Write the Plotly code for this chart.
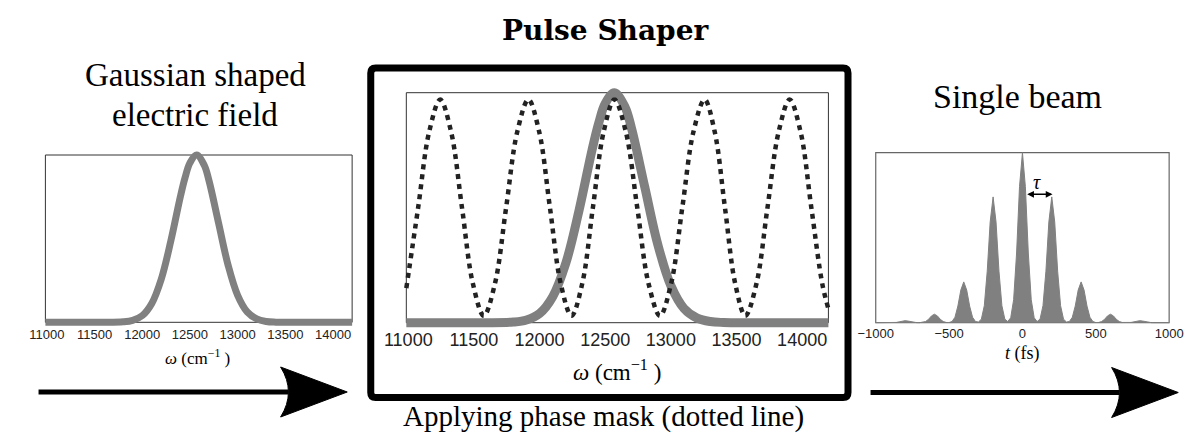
import plotly.graph_objects as go

W, H = 1199, 434

# ---------------- data ----------------
omega_tick_vals = [11000, 11500, 12000, 12500, 13000, 13500, 14000]
time_tick_vals = [-1000, -500, 0, 500, 1000]

# Gaussian spectral amplitude (cm^-1 -> normalised amplitude)
omega_field = [10985, 11200, 11400, 11600, 11800, 11900, 12000, 12100, 12200, 12300,
               12400, 12450, 12500, 12570, 12650, 12700, 12800, 12900, 13000, 13100,
               13200, 13300, 13400, 13600, 13800, 14000, 14200]
field_amp = [0, 0, 0, 0, 0.003, 0.012, 0.040, 0.113, 0.259, 0.487,
             0.752, 0.867, 0.953, 1.0, 0.939, 0.846, 0.593, 0.341, 0.161, 0.062,
             0.020, 0.005, 0.001, 0, 0, 0, 0]

# phase mask (dotted line)
omega_mask = [10985, 11075, 11159, 11243, 11326, 11409, 11492, 11575, 11660, 11745,
              11830, 11915, 11997, 12079, 12161, 12243, 12325, 12406, 12488, 12570,
              12657, 12744, 12830, 12917, 13002, 13087, 13172, 13257, 13334, 13412,
              13490, 13567, 13652, 13736, 13821, 13905, 13988, 14070, 14153, 14200]
mask_amp = [0.15, 0.50, 0.83, 0.97, 0.83, 0.50, 0.17, 0.03, 0.17, 0.50,
            0.83, 0.97, 0.83, 0.50, 0.17, 0.03, 0.17, 0.50, 0.83, 0.97,
            0.83, 0.50, 0.17, 0.03, 0.17, 0.50, 0.83, 0.97, 0.83, 0.50,
            0.17, 0.03, 0.17, 0.50, 0.83, 0.97, 0.83, 0.50, 0.17, 0.06]

# single beam: pulse train envelope in time (fs)
time_fs = [-1000, -980, -960, -940, -920, -900, -880, -860, -840, -820,
           -800, -780, -760, -740, -720, -700, -680, -660, -640, -620,
           -600, -580, -560, -540, -520, -500, -480, -460, -440, -420,
           -400, -380, -360, -340, -320, -300, -280, -260, -240, -220,
           -200, -180, -160, -140, -120, -100, -80, -60, -40, -20,
           0, 20, 40, 60, 80, 100, 120, 140, 160, 180,
           200, 220, 240, 260, 280, 300, 320, 340, 360, 380,
           400, 420, 440, 460, 480, 500, 520, 540, 560, 580,
           600, 620, 640, 660, 680, 700, 720, 740, 760, 780,
           800, 820, 840, 860, 880, 900, 920, 940, 960, 980, 1000]
pulse_env = [0, 0, 0, 0, 0, 0, 0.0003, 0.0016, 0.005, 0.0096,
             0.012, 0.0096, 0.005, 0.0016, 0.0003, 0.0002, 0.0015, 0.007, 0.02, 0.04,
             0.05, 0.04, 0.02, 0.007, 0.0015, 0.001, 0.007, 0.032, 0.098, 0.192,
             0.24, 0.192, 0.098, 0.032, 0.007, 0.004, 0.021, 0.10, 0.303, 0.592,
             0.74, 0.592, 0.303, 0.10, 0.021, 0.007, 0.029, 0.135, 0.41, 0.80,
             1.0, 0.80, 0.41, 0.135, 0.029, 0.007, 0.021, 0.10, 0.303, 0.592,
             0.74, 0.592, 0.303, 0.10, 0.021, 0.004, 0.007, 0.032, 0.098, 0.192,
             0.24, 0.192, 0.098, 0.032, 0.007, 0.001, 0.0015, 0.007, 0.02, 0.04,
             0.05, 0.04, 0.02, 0.007, 0.0015, 0.0002, 0.0003, 0.0016, 0.005, 0.0096,
             0.012, 0.0096, 0.005, 0.0016, 0.0003, 0, 0, 0, 0, 0, 0]

omega_range = [10985, 14200]
time_range = [-1000, 1000]

# ---------------- styling ----------------
GRAY = "#808080"
INK = "#000000"
SERIF = "Liberation Serif"
SANS = "Liberation Sans"


def fx(p):
    return p / W


def fy(p):
    return 1 - p / H


fig = go.Figure()

PAD = 7
layout_axes = {}
shapes = []


def panel(idx, X0, X1, Y0, Y1, xr, tickvals, tsize, standoff, frame_color, frame_w):
    a, b = xr
    sx = (b - a) / (X1 - X0)
    sy = 1.0 / (Y1 - Y0)
    sfx = "" if idx == 1 else str(idx)
    layout_axes["xaxis" + sfx] = dict(
        domain=[fx(X0 - PAD), fx(X1 + PAD)],
        range=[a - PAD * sx, b + PAD * sx],
        anchor="free", position=fy(Y1),
        tickvals=tickvals, tickformat="d", ticks="", showgrid=False, zeroline=False,
        showline=False, ticklabelstandoff=standoff,
        tickfont=dict(family=SANS, size=tsize, color="#222222"),
    )
    layout_axes["yaxis" + sfx] = dict(
        domain=[fy(Y1 + PAD), fy(Y0 - PAD)],
        range=[-PAD * sy, 1 + PAD * sy],
        visible=False, anchor="x" + sfx,
    )
    shapes.append(dict(type="rect", xref="x" + sfx, yref="y" + sfx,
                       x0=a, x1=b, y0=0, y1=1, layer="below",
                       line=dict(color=frame_color, width=frame_w)))


panel(1, 30, 343, 155, 322.3, omega_range, omega_tick_vals, 13, 3, "#333333", 1)
panel(2, 398.3, 829, 92.7, 322.7, omega_range, omega_tick_vals, 18, 4, "#333333", 1)
panel(3, 877.3, 1176.7, 152.7, 322.7, time_range, time_tick_vals, 13, 1, "#666666", 1.2)

# traces
fig.add_trace(go.Scatter(x=omega_field, y=field_amp, xaxis="x", yaxis="y", mode="lines",
                         line=dict(color=GRAY, width=7, shape="spline"), hoverinfo="skip"))
fig.add_trace(go.Scatter(x=omega_field, y=field_amp, xaxis="x2", yaxis="y2", mode="lines",
                         line=dict(color=GRAY, width=9, shape="spline"), hoverinfo="skip"))
fig.add_trace(go.Scatter(x=omega_mask, y=mask_amp, xaxis="x2", yaxis="y2", mode="lines",
                         line=dict(color="#222222", width=4.5, shape="spline", dash="5px,5px"),
                         hoverinfo="skip"))
fig.add_trace(go.Scatter(x=time_fs, y=pulse_env, xaxis="x3", yaxis="y3", mode="lines",
                         fill="tozeroy", fillcolor=GRAY,
                         line=dict(color=GRAY, width=1), hoverinfo="skip"))


# thick box around pulse shaper (rounded corners)
def rounded_rect(x0, y0, x1, y1, r):
    pts = [
        f"M {fx(x0 + r)},{fy(y0)}", f"L {fx(x1 - r)},{fy(y0)}",
        f"Q {fx(x1)},{fy(y0)} {fx(x1)},{fy(y0 + r)}", f"L {fx(x1)},{fy(y1 - r)}",
        f"Q {fx(x1)},{fy(y1)} {fx(x1 - r)},{fy(y1)}", f"L {fx(x0 + r)},{fy(y1)}",
        f"Q {fx(x0)},{fy(y1)} {fx(x0)},{fy(y1 - r)}", f"L {fx(x0)},{fy(y0 + r)}",
        f"Q {fx(x0)},{fy(y0)} {fx(x0 + r)},{fy(y0)}", "Z",
    ]
    return " ".join(pts)


shapes.append(dict(type="path", xref="paper", yref="paper",
                   path=rounded_rect(362, 68, 849, 397.5, 5),
                   line=dict(color=INK, width=7)))


def arrow(x_start, x_back, x_tip, y, half, notch):
    shapes.append(dict(type="line", xref="paper", yref="paper",
                       x0=fx(x_start), x1=fx(x_back + notch), y0=fy(y), y1=fy(y),
                       line=dict(color=INK, width=5)))
    path = (f"M {fx(x_tip)},{fy(y)} L {fx(x_back)},{fy(y - half)} "
            f"Q {fx(x_back + 2 * notch)},{fy(y)} {fx(x_back)},{fy(y + half)} Z")
    shapes.append(dict(type="path", xref="paper", yref="paper", path=path,
                       fillcolor=INK, line=dict(color=INK, width=1)))


arrow(23, 270, 338, 392, 25, 8)
arrow(872, 1118, 1186, 392.5, 25, 8)

annotations = [
    dict(text="<b>Pulse Shaper</b>", x=fx(602), y=fy(30),
         font=dict(family="DejaVu Serif", size=28, color=INK)),
    dict(text="Gaussian shaped", x=fx(183), y=fy(75), font=dict(family=SERIF, size=33, color=INK)),
    dict(text="electric field", x=fx(183), y=fy(115), font=dict(family=SERIF, size=33, color=INK)),
    dict(text="Single beam", x=fx(1022), y=fy(96), font=dict(family=SERIF, size=34, color=INK)),
    dict(text="Applying phase mask (dotted line)", x=fx(600), y=fy(416),
         font=dict(family=SERIF, size=29, color=INK)),
    dict(text="<i>ω</i> (cm<sup>−1</sup> )", x=fx(185), y=fy(357),
         font=dict(family=SERIF, size=17, color=INK)),
    dict(text="<i>ω</i> (cm<sup>−1</sup> )", x=fx(613), y=fy(370),
         font=dict(family=SERIF, size=23, color=INK)),
    dict(text="<i>t</i> (fs)", x=fx(1027), y=fy(353),
         font=dict(family=SERIF, size=18, color=INK)),
]
for an in annotations:
    an.update(xref="paper", yref="paper", showarrow=False, xanchor="center", yanchor="middle")

# tau marker on the pulse train
annotations.append(dict(text="<i>τ</i>", x=100, y=0.83, xref="x3", yref="y3", showarrow=False,
                        font=dict(family=SERIF, size=20, color=INK)))
annotations.append(dict(text="", x=205, y=0.755, xref="x3", yref="y3",
                        ax=22, ay=0.755, axref="x3", ayref="y3",
                        showarrow=True, arrowside="end+start", arrowhead=2,
                        arrowsize=0.9, arrowwidth=1.5, arrowcolor=INK))

fig.update_layout(
    width=W, height=H, autosize=False,
    margin=dict(l=0, r=0, t=0, b=0),
    paper_bgcolor="white", plot_bgcolor="white",
    showlegend=False,
    shapes=shapes, annotations=annotations,
    **layout_axes,
)

fig.write_html("out.html", config={"displayModeBar": False},
               post_script="document.body.style.margin='0';")
